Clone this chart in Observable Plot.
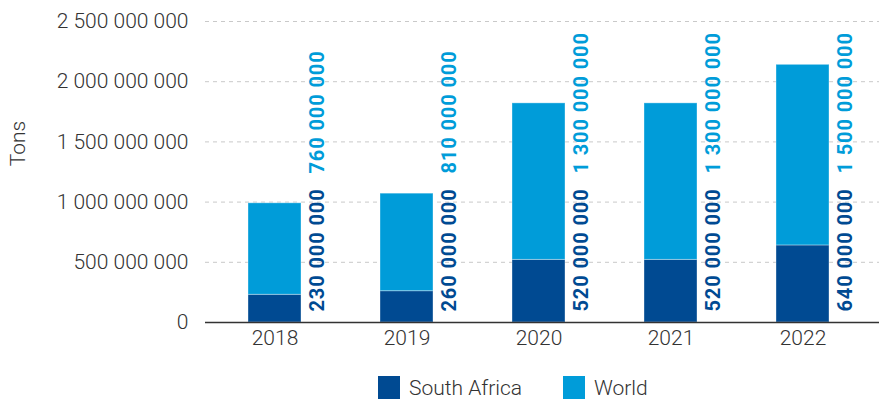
<!DOCTYPE html>
<html>
<head>
<meta charset="utf-8">
<script src="https://cdn.jsdelivr.net/npm/d3@7"></script>
<script src="https://cdn.jsdelivr.net/npm/@observablehq/plot@0.6"></script>
<style>
  body { margin: 0; background: #fff; font-family: Roboto, "Noto Sans", sans-serif; }
  #chart svg { display: block; }
  #legend { position: relative; height: 31px; margin-top: 6px; font-family: Roboto, sans-serif; font-weight: 300; font-size: 21px; color: #333; }
  .item { position: absolute; top: 0; display: flex; align-items: center; height: 23px; }
  .sw { width: 22px; height: 23px; margin-right: 9px; }
</style>
</head>
<body>
<div id="chart"></div>
<div id="legend"></div>
<script>
const years = ["2018", "2019", "2020", "2021", "2022"];
const southAfrica = [230e6, 260e6, 520e6, 520e6, 640e6];
const world = [760e6, 810e6, 1300e6, 1300e6, 1500e6];
const yTicks = [0, 500e6, 1000e6, 1500e6, 2000e6, 2500e6];
const seriesNames = ["South Africa", "World"];
const seriesColors = ["#004a92", "#009cd9"];

const fmt = v => d3.format(",")(v).replace(/,/g, " ");

const data = [
  ...years.map((year, i) => ({year, series: "South Africa", value: southAfrica[i]})),
  ...years.map((year, i) => ({year, series: "World", value: world[i]}))
];
const saData = data.filter(d => d.series === "South Africa");
const wData = data.filter(d => d.series === "World");

const chart = Plot.plot({
  width: 879,
  height: 370,
  marginLeft: 205,
  marginRight: 0,
  marginTop: 21,
  marginBottom: 48,
  style: {fontFamily: "Roboto, sans-serif", fontSize: "21px", fontWeight: 300, color: "#333", background: "#fff"},
  x: {type: "band", domain: years, paddingInner: 0.6, paddingOuter: 0.334, align: 0.46, label: null},
  y: {domain: [0, 2500e6], label: null},
  color: {domain: seriesNames, range: seriesColors},
  marks: [
    Plot.gridY(yTicks, {stroke: "#c9c9c9", strokeOpacity: 1, strokeDasharray: "4,4"}),
    Plot.axisY(yTicks, {tickSize: 0, tickPadding: 17, tickFormat: fmt, label: null, fill: "#333"}),
    Plot.axisX({tickSize: 0, tickPadding: 8, label: null, fill: "#333"}),
    Plot.barY(data, {x: "year", y: "value", fill: "series", stroke: "#ffffff", strokeOpacity: 0.35, strokeWidth: 1}),
    Plot.ruleY([0], {stroke: "#333", strokeWidth: 1.5}),
    Plot.text(saData, {x: "year", y: 0, text: d => fmt(d.value), rotate: -90, textAnchor: "start",
      dx: 43, dy: -11, fill: seriesColors[0], fontWeight: 700, fontSize: 20}),
    Plot.text(wData, {x: "year", y: 0, text: d => fmt(d.value), rotate: -90, textAnchor: "start",
      dx: 43, dy: -149, fill: seriesColors[1], fontWeight: 700, fontSize: 20}),
    Plot.text(["Tons"], {frameAnchor: "top-left", dx: -195, dy: 122, rotate: -90, textAnchor: "middle",
      fill: "#333", fontSize: 21, fontWeight: 300})
  ]
});
d3.select(chart).selectAll("text").filter(function() {
  return this.getAttribute("font-weight") === "700" || (this.parentNode && this.parentNode.getAttribute("font-weight") === "700");
}).style("letter-spacing", "0.9px");
document.getElementById("chart").appendChild(chart);

const legend = document.getElementById("legend");
const lefts = [378, 563];
seriesNames.forEach((name, i) => {
  const item = document.createElement("div");
  item.className = "item";
  item.style.left = lefts[i] + "px";
  const sw = document.createElement("div");
  sw.className = "sw";
  sw.style.background = seriesColors[i];
  const label = document.createElement("span");
  label.textContent = name;
  item.appendChild(sw);
  item.appendChild(label);
  legend.appendChild(item);
});
</script>
</body>
</html>
